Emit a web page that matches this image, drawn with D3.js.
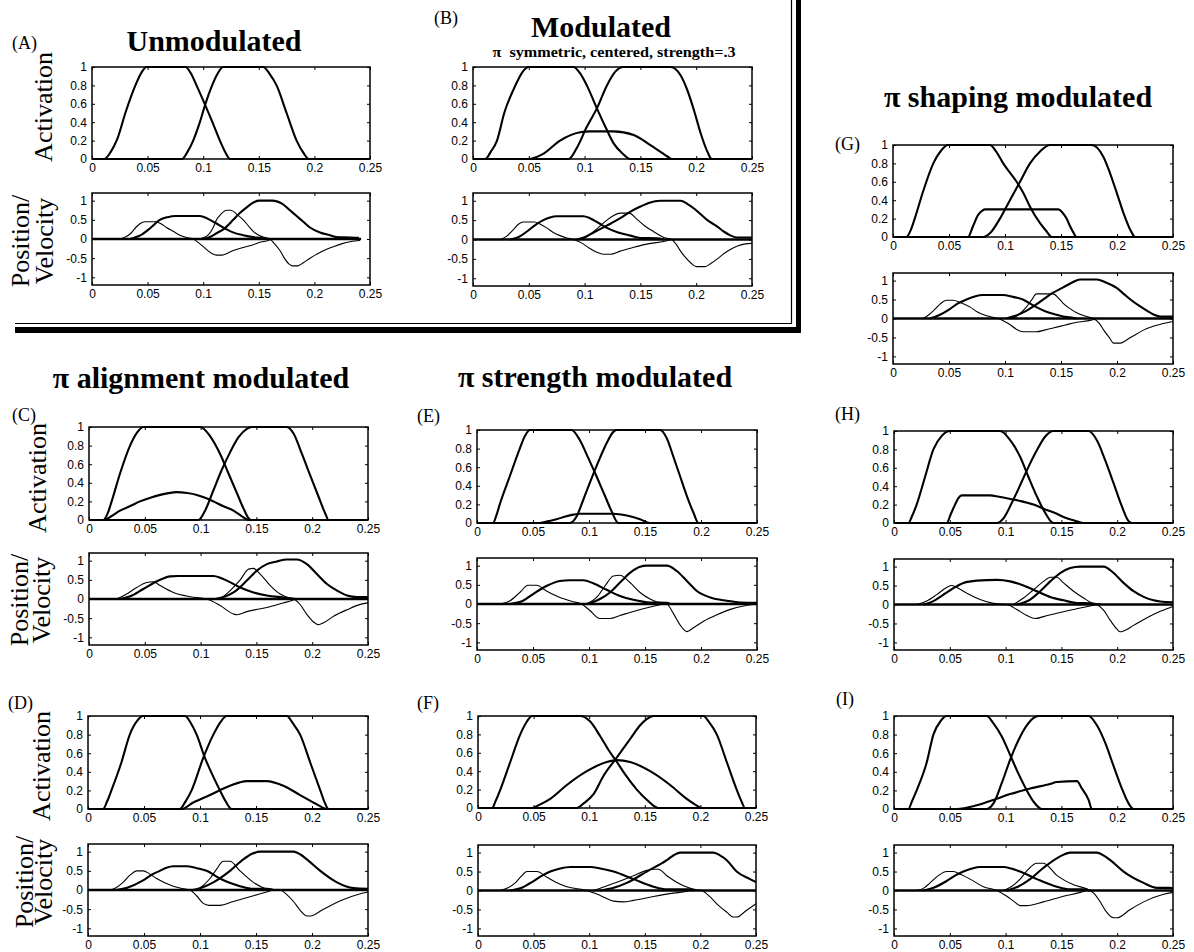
<!DOCTYPE html>
<html><head><meta charset="utf-8">
<script src="https://cdn.jsdelivr.net/npm/d3@7"></script>
<style>body{margin:0;background:#fff}svg{display:block}</style>
</head><body>
<svg id="c" width="1194" height="952"></svg>
<script>
// ---------- tick values ----------
const xTicks = [0, 0.05, 0.1, 0.15, 0.2, 0.25];
const actTicks = [0, 0.2, 0.4, 0.6, 0.8, 1];
const posTicks = [-1, -0.5, 0, 0.5, 1];
const actDomain = [0, 1];
const posDomain = [-1.2, 1.2];

// ---------- texts ----------
const panelLetters = ["(A)", "(B)", "(C)", "(D)", "(E)", "(F)", "(G)", "(H)", "(I)"];
const titleTexts = ["Unmodulated", "Modulated", "\u03c0 alignment modulated", "\u03c0 strength modulated", "\u03c0 shaping modulated"];
const subtitleText = "\u03c0  symmetric, centered, strength=.3";
const yLabelAct = "Activation";
const yLabelPos = ["Position/", "Velocity"];

// ---------- panel A ----------
const A_act1 = [[0,0],[0.011,0],[0.017,0.08],[0.0225,0.21],[0.030,0.5],[0.039,0.8],[0.045,0.95],[0.049,1],[0.084,1],[0.089,0.93],[0.094,0.8],[0.102,0.58],[0.109,0.38],[0.115,0.2],[0.120,0.07],[0.124,0],[0.25,0]];
const A_act2 = [[0,0],[0.081,0],[0.086,0.08],[0.091,0.2],[0.097,0.4],[0.102,0.6],[0.108,0.8],[0.113,0.93],[0.118,1],[0.154,1],[0.16,0.92],[0.166,0.8],[0.175,0.5],[0.184,0.2],[0.19,0.07],[0.195,0],[0.25,0]];
const A_pos1 = [[0.034,0],[0.045,0.12],[0.053,0.3],[0.061,0.5],[0.068,0.57],[0.075,0.6],[0.097,0.6],[0.106,0.5],[0.114,0.37],[0.121,0.25],[0.128,0.16],[0.136,0.1],[0.145,0.05],[0.151,0.03],[0.157,0]];
const A_pos2 = [[0.1,0],[0.106,0.05],[0.112,0.15],[0.118,0.25],[0.127,0.5],[0.133,0.68],[0.138,0.8],[0.145,0.95],[0.150,1],[0.162,1],[0.172,0.9],[0.178,0.75],[0.184,0.6],[0.19,0.45],[0.196,0.3],[0.205,0.17],[0.214,0.1],[0.22,0.05],[0.232,0.04],[0.24,0.03]];
const A_vel1 = [[0.025,0],[0.03,0.05],[0.035,0.15],[0.04,0.32],[0.045,0.43],[0.048,0.45],[0.057,0.45],[0.062,0.4],[0.067,0.3],[0.073,0.2],[0.079,0.1],[0.085,0.04],[0.091,0],[0.096,-0.1],[0.102,-0.25],[0.108,-0.38],[0.112,-0.42],[0.117,-0.42],[0.122,-0.37],[0.127,-0.3],[0.136,-0.22],[0.145,-0.15],[0.152,-0.08],[0.157,-0.05],[0.162,0]];
const A_vel2 = [[0.095,0],[0.1,0.03],[0.105,0.12],[0.109,0.3],[0.112,0.5],[0.116,0.65],[0.121,0.75],[0.125,0.75],[0.13,0.65],[0.136,0.5],[0.141,0.33],[0.145,0.2],[0.15,0.1],[0.154,0.05],[0.16,0],[0.164,-0.12],[0.169,-0.3],[0.173,-0.5],[0.177,-0.65],[0.18,-0.7],[0.185,-0.7],[0.19,-0.62],[0.196,-0.5],[0.202,-0.4],[0.21,-0.28],[0.217,-0.2],[0.225,-0.12],[0.232,-0.07],[0.241,-0.04]];
const A_zero = [[0,0],[0.242,0]];

// ---------- panel B ----------
const B_act1 = [[0,0],[0.011,0],[0.016,0.08],[0.0215,0.2],[0.028,0.5],[0.038,0.8],[0.044,0.94],[0.05,1],[0.09,1],[0.096,0.93],[0.102,0.8],[0.111,0.55],[0.1186,0.35],[0.126,0.17],[0.1335,0.065],[0.141,0],[0.25,0]];
const B_act2 = [[0,0],[0.0857,0],[0.093,0.12],[0.102,0.35],[0.111,0.55],[0.12,0.8],[0.1275,0.95],[0.135,1],[0.177,1],[0.186,0.91],[0.192,0.75],[0.198,0.53],[0.204,0.28],[0.21,0.08],[0.214,0],[0.25,0]];
const B_act3 = [[0,0],[0.05,0],[0.062,0.05],[0.078,0.2],[0.096,0.29],[0.105,0.3],[0.126,0.3],[0.144,0.26],[0.159,0.15],[0.174,0.03],[0.178,0],[0.25,0]];
const B_pos1 = [[0.033,0],[0.04,0.05],[0.048,0.2],[0.056,0.38],[0.063,0.5],[0.069,0.57],[0.075,0.6],[0.099,0.6],[0.104,0.56],[0.108,0.5],[0.114,0.4],[0.12,0.3],[0.13,0.18],[0.141,0.1],[0.15,0.04],[0.165,0.03],[0.171,0]];
const B_pos2 = [[0.093,0],[0.1,0.06],[0.108,0.18],[0.116,0.3],[0.124,0.42],[0.132,0.55],[0.14,0.7],[0.15,0.85],[0.158,0.95],[0.168,1],[0.186,1],[0.192,0.92],[0.198,0.8],[0.204,0.65],[0.21,0.5],[0.218,0.35],[0.225,0.2],[0.231,0.1],[0.237,0.05],[0.25,0.05]];
const B_vel1 = [[0.0245,0],[0.03,0.08],[0.036,0.25],[0.041,0.4],[0.045,0.45],[0.055,0.45],[0.06,0.4],[0.066,0.3],[0.072,0.18],[0.078,0.1],[0.084,0.04],[0.09,0],[0.098,-0.1],[0.104,-0.22],[0.111,-0.33],[0.117,-0.38],[0.123,-0.38],[0.132,-0.3],[0.144,-0.2],[0.159,-0.1],[0.171,-0.05],[0.177,0]];
const B_vel2 = [[0.096,0],[0.102,0.07],[0.108,0.2],[0.114,0.35],[0.12,0.5],[0.126,0.62],[0.132,0.68],[0.14,0.68],[0.147,0.52],[0.154,0.35],[0.162,0.2],[0.171,0.05],[0.178,0],[0.182,-0.12],[0.186,-0.3],[0.19,-0.45],[0.195,-0.6],[0.2,-0.7],[0.208,-0.7],[0.213,-0.62],[0.219,-0.5],[0.225,-0.36],[0.231,-0.25],[0.237,-0.17],[0.243,-0.12],[0.25,-0.1]];
const B_zero = [[0,0],[0.25,0]];

// ---------- panel G ----------
const G_act1 = [[0,0],[0.012,0],[0.016,0.08],[0.0194,0.2],[0.027,0.5],[0.036,0.8],[0.043,0.94],[0.049,1],[0.0865,1],[0.092,0.93],[0.0984,0.8],[0.1104,0.6],[0.1163,0.48],[0.1223,0.33],[0.1313,0.15],[0.1372,0.06],[0.1417,0],[0.25,0]];
const G_act2 = [[0,0],[0.0806,0],[0.0865,0.04],[0.0955,0.2],[0.1044,0.4],[0.1134,0.6],[0.1223,0.8],[0.1313,0.93],[0.1402,1],[0.1775,1],[0.1879,0.87],[0.1939,0.69],[0.1998,0.48],[0.2058,0.26],[0.2118,0.08],[0.2163,0],[0.25,0]];
const G_act3 = [[0,0],[0.067,0],[0.0715,0.12],[0.076,0.24],[0.079,0.28],[0.082,0.3],[0.1477,0.3],[0.151,0.27],[0.155,0.2],[0.158,0.12],[0.161,0.05],[0.164,0],[0.25,0]];
const G_pos1 = [[0.033,0],[0.042,0.1],[0.0507,0.25],[0.058,0.4],[0.0656,0.5],[0.073,0.58],[0.08,0.62],[0.098,0.62],[0.107,0.57],[0.116,0.5],[0.122,0.4],[0.128,0.3],[0.137,0.18],[0.146,0.1],[0.152,0.05],[0.158,0.03],[0.164,0]];
const G_pos2 = [[0.101,0],[0.11,0.08],[0.119,0.2],[0.127,0.35],[0.134,0.5],[0.143,0.68],[0.152,0.82],[0.16,0.95],[0.167,1.03],[0.182,1.03],[0.19,0.95],[0.2,0.8],[0.206,0.65],[0.212,0.5],[0.22,0.33],[0.227,0.2],[0.233,0.1],[0.239,0.05],[0.25,0.05]];
const G_vel1 = [[0.027,0],[0.032,0.1],[0.036,0.2],[0.042,0.38],[0.048,0.48],[0.054,0.48],[0.06,0.42],[0.069,0.3],[0.075,0.18],[0.081,0.1],[0.088,0.04],[0.094,0],[0.099,-0.07],[0.104,-0.15],[0.11,-0.28],[0.116,-0.35],[0.128,-0.35],[0.136,-0.3],[0.143,-0.25],[0.154,-0.17],[0.164,-0.1],[0.176,-0.05],[0.182,0]];
const G_vel2 = [[0.107,0],[0.113,0.12],[0.119,0.3],[0.124,0.5],[0.128,0.65],[0.143,0.65],[0.148,0.53],[0.152,0.4],[0.158,0.26],[0.164,0.15],[0.172,0.06],[0.179,0],[0.184,-0.12],[0.188,-0.3],[0.193,-0.5],[0.197,-0.65],[0.203,-0.65],[0.208,-0.58],[0.212,-0.5],[0.218,-0.4],[0.224,-0.3],[0.231,-0.22],[0.239,-0.15],[0.25,-0.08]];
const G_zero = [[0,0],[0.25,0]];

// ---------- panel C ----------
const C_act1 = [[0,0],[0.0129,0],[0.017,0.08],[0.0203,0.2],[0.0278,0.5],[0.0368,0.8],[0.043,0.94],[0.0487,1],[0.0996,1],[0.1086,0.9],[0.1175,0.71],[0.125,0.5],[0.1325,0.29],[0.1384,0.125],[0.1429,0.02],[0.145,0],[0.25,0]];
const C_act2 = [[0,0],[0.098,0],[0.104,0.1],[0.1115,0.32],[0.119,0.54],[0.1265,0.73],[0.134,0.89],[0.1414,0.98],[0.1459,1],[0.1773,1],[0.1833,0.93],[0.1908,0.71],[0.1982,0.48],[0.2057,0.25],[0.2117,0.07],[0.2147,0],[0.25,0]];
const C_act3 = [[0,0],[0.0129,0],[0.02,0.04],[0.0278,0.1],[0.037,0.15],[0.0457,0.2],[0.055,0.24],[0.0637,0.27],[0.0786,0.3],[0.088,0.29],[0.0966,0.27],[0.104,0.24],[0.1115,0.2],[0.12,0.15],[0.1295,0.1],[0.137,0.04],[0.143,0],[0.25,0]];
const C_pos1 = [[0.0278,0],[0.037,0.07],[0.0487,0.26],[0.0637,0.5],[0.0727,0.59],[0.08,0.6],[0.1115,0.6],[0.118,0.55],[0.1235,0.48],[0.1355,0.3],[0.1474,0.17],[0.1594,0.09],[0.1743,0.04],[0.1803,0.02],[0.185,0]];
const C_pos2 = [[0.113,0],[0.1205,0.05],[0.1295,0.17],[0.1414,0.48],[0.1504,0.74],[0.1594,0.91],[0.1684,0.98],[0.1773,1.03],[0.1863,1.03],[0.1952,0.91],[0.2042,0.65],[0.2132,0.39],[0.2222,0.22],[0.2312,0.09],[0.2401,0.05],[0.25,0.05]];
const C_vel1 = [[0.0248,0],[0.0338,0.13],[0.0427,0.3],[0.0517,0.43],[0.0577,0.45],[0.0637,0.35],[0.0756,0.17],[0.0906,0.06],[0.1055,0],[0.1175,-0.17],[0.1295,-0.39],[0.1325,-0.41],[0.1414,-0.33],[0.1594,-0.22],[0.1743,-0.1],[0.1818,-0.04],[0.185,0]];
const C_vel2 = [[0.1175,0],[0.1265,0.22],[0.1355,0.5],[0.143,0.78],[0.1474,0.8],[0.1534,0.65],[0.1624,0.35],[0.1713,0.13],[0.1803,0.02],[0.1833,0],[0.1893,-0.15],[0.1952,-0.4],[0.2012,-0.6],[0.2057,-0.67],[0.2102,-0.62],[0.2192,-0.45],[0.2312,-0.28],[0.2431,-0.14],[0.25,-0.1]];
const C_zero = [[0,0],[0.25,0]];

// ---------- panel D ----------
const D_act1 = [[0,0],[0.0134,0],[0.017,0.08],[0.0209,0.2],[0.0298,0.5],[0.0373,0.8],[0.044,0.95],[0.0492,1],[0.0865,1],[0.092,0.92],[0.097,0.8],[0.1044,0.55],[0.111,0.37],[0.1178,0.2],[0.123,0.08],[0.1283,0],[0.25,0]];
const D_act2 = [[0,0],[0.082,0],[0.087,0.08],[0.0925,0.2],[0.1029,0.55],[0.1119,0.8],[0.118,0.93],[0.1238,1],[0.1775,1],[0.183,0.92],[0.1894,0.8],[0.1984,0.5],[0.2074,0.2],[0.211,0.08],[0.2148,0],[0.25,0]];
const D_act3 = [[0,0],[0.0835,0],[0.094,0.07],[0.1089,0.15],[0.1268,0.25],[0.1417,0.3],[0.1596,0.3],[0.1745,0.25],[0.1894,0.15],[0.2044,0.05],[0.2133,0],[0.25,0]];
const D_pos1 = [[0.0254,0],[0.035,0.06],[0.0492,0.25],[0.057,0.4],[0.0641,0.5],[0.07,0.58],[0.0761,0.62],[0.088,0.62],[0.097,0.57],[0.1059,0.5],[0.1178,0.3],[0.127,0.18],[0.1357,0.1],[0.1477,0.03],[0.1596,0.03],[0.1656,0]];
const D_pos2 = [[0.094,0],[0.103,0.08],[0.1119,0.2],[0.1268,0.5],[0.1387,0.8],[0.147,0.95],[0.1536,1],[0.1835,1],[0.19,0.92],[0.1954,0.8],[0.2074,0.5],[0.2223,0.2],[0.23,0.1],[0.2372,0.05],[0.25,0.03]];
const D_vel1 = [[0.0194,0],[0.025,0.06],[0.0313,0.2],[0.038,0.4],[0.0433,0.5],[0.0492,0.5],[0.055,0.42],[0.0612,0.3],[0.0761,0.1],[0.084,0.04],[0.091,0],[0.097,-0.15],[0.1029,-0.35],[0.108,-0.4],[0.1178,-0.4],[0.1298,-0.3],[0.1477,-0.15],[0.1596,-0.05],[0.165,0]];
const D_vel2 = [[0.097,0],[0.1029,0.12],[0.1089,0.3],[0.115,0.55],[0.1208,0.75],[0.1268,0.75],[0.1357,0.5],[0.1477,0.2],[0.1596,0.03],[0.1715,0],[0.1775,-0.12],[0.1835,-0.3],[0.19,-0.55],[0.1954,-0.68],[0.1984,-0.68],[0.2103,-0.5],[0.2282,-0.25],[0.2431,-0.1],[0.25,-0.05]];
const D_zero = [[0,0],[0.25,0]];

// ---------- panel E ----------
const E_act1 = [[0,0],[0.0143,0],[0.017,0.07],[0.0203,0.2],[0.0292,0.5],[0.0382,0.8],[0.043,0.94],[0.0471,1],[0.0844,1],[0.0919,0.89],[0.0993,0.7],[0.1068,0.5],[0.1143,0.29],[0.1202,0.125],[0.1262,0],[0.25,0]];
const E_act2 = [[0,0],[0.0829,0],[0.0889,0.07],[0.0949,0.25],[0.1023,0.48],[0.1098,0.7],[0.1158,0.86],[0.1217,0.98],[0.1247,1],[0.1635,1],[0.1695,0.91],[0.1754,0.71],[0.1814,0.5],[0.1874,0.29],[0.1933,0.11],[0.1978,0],[0.25,0]];
const E_act3 = [[0,0],[0.056,0],[0.064,0.02],[0.071,0.04],[0.079,0.07],[0.0859,0.09],[0.0919,0.1],[0.1217,0.1],[0.1337,0.08],[0.1456,0.04],[0.1545,0],[0.25,0]];
const E_pos1 = [[0.0292,0],[0.0411,0.085],[0.0501,0.26],[0.062,0.47],[0.074,0.6],[0.0829,0.62],[0.0949,0.62],[0.1038,0.54],[0.1158,0.37],[0.1277,0.21],[0.1396,0.11],[0.1545,0.04],[0.1695,0.03],[0.1724,0]];
const E_pos2 = [[0.0979,0],[0.1098,0.13],[0.1187,0.3],[0.1277,0.56],[0.1366,0.81],[0.1456,0.97],[0.1516,1],[0.1695,1],[0.1784,0.86],[0.1874,0.6],[0.1963,0.34],[0.2083,0.17],[0.2232,0.085],[0.2351,0.04],[0.25,0.03]];
const E_vel1 = [[0.0203,0],[0.0292,0.08],[0.0382,0.3],[0.0456,0.49],[0.0531,0.49],[0.062,0.34],[0.074,0.17],[0.0859,0.06],[0.0934,0],[0.1008,-0.17],[0.1098,-0.38],[0.1187,-0.38],[0.1277,-0.3],[0.1426,-0.17],[0.1575,-0.06],[0.1665,0]];
const E_vel2 = [[0.0979,0],[0.1068,0.17],[0.1143,0.47],[0.1217,0.73],[0.1277,0.75],[0.1366,0.56],[0.1456,0.3],[0.1545,0.13],[0.1635,0.03],[0.1695,0],[0.1754,-0.25],[0.1814,-0.55],[0.1874,-0.72],[0.1933,-0.62],[0.2023,-0.45],[0.2142,-0.28],[0.2262,-0.14],[0.2381,-0.05],[0.25,0]];
const E_zero = [[0,0],[0.25,0]];

// ---------- panel F ----------
const F_act1 = [[0,0],[0.0126,0],[0.016,0.08],[0.0201,0.2],[0.029,0.5],[0.038,0.8],[0.044,0.94],[0.0485,1],[0.0919,1],[0.1009,0.94],[0.1099,0.78],[0.1174,0.63],[0.1249,0.5],[0.1338,0.34],[0.1428,0.2],[0.1518,0.09],[0.1623,0],[0.25,0]];
const F_act2 = [[0,0],[0.0889,0],[0.095,0.05],[0.1039,0.15],[0.1129,0.35],[0.1249,0.55],[0.1368,0.75],[0.1458,0.9],[0.152,0.97],[0.1578,1],[0.2027,1],[0.208,0.93],[0.2147,0.8],[0.2237,0.5],[0.2326,0.2],[0.237,0.07],[0.2401,0],[0.25,0]];
const F_act3 = [[0,0],[0.0485,0],[0.056,0.04],[0.065,0.1],[0.0799,0.25],[0.0979,0.4],[0.1159,0.5],[0.1249,0.52],[0.1368,0.5],[0.1548,0.4],[0.1728,0.25],[0.1877,0.1],[0.195,0.04],[0.2012,0],[0.25,0]];
const F_pos1 = [[0.029,0],[0.04,0.08],[0.05,0.25],[0.058,0.4],[0.065,0.5],[0.074,0.58],[0.0829,0.62],[0.1009,0.62],[0.11,0.58],[0.1219,0.5],[0.1398,0.3],[0.1578,0.1],[0.1698,0.03],[0.1907,0.03],[0.1937,0]];
const F_pos2 = [[0.1099,0],[0.122,0.07],[0.1338,0.2],[0.1518,0.5],[0.1698,0.8],[0.176,0.93],[0.1817,1],[0.2117,1],[0.218,0.92],[0.2237,0.8],[0.2326,0.5],[0.2446,0.3],[0.25,0.22]];
const F_vel1 = [[0.0201,0],[0.027,0.07],[0.0335,0.2],[0.039,0.38],[0.044,0.5],[0.053,0.5],[0.062,0.35],[0.07,0.22],[0.0799,0.1],[0.0979,0],[0.1099,-0.13],[0.1219,-0.28],[0.1308,-0.3],[0.1398,-0.26],[0.1578,-0.16],[0.1757,-0.07],[0.1877,-0.02],[0.19,0]];
const F_vel2 = [[0.1039,0],[0.1249,0.22],[0.1398,0.39],[0.1518,0.53],[0.1578,0.56],[0.1623,0.56],[0.1698,0.39],[0.1787,0.22],[0.1877,0.09],[0.1967,0.02],[0.2012,0],[0.2087,-0.17],[0.2162,-0.39],[0.2237,-0.57],[0.2296,-0.7],[0.2326,-0.7],[0.2416,-0.52],[0.25,-0.35]];
const F_zero = [[0,0],[0.25,0]];

// ---------- panel H ----------
const H_act1 = [[0,0],[0.0129,0],[0.016,0.07],[0.0203,0.2],[0.0278,0.5],[0.0353,0.8],[0.043,0.95],[0.0502,1],[0.0951,1],[0.1041,0.9],[0.113,0.72],[0.1205,0.5],[0.128,0.29],[0.1355,0.11],[0.1429,0],[0.25,0]];
const H_act2 = [[0,0],[0.0921,0],[0.0981,0.05],[0.1056,0.22],[0.113,0.41],[0.1205,0.61],[0.128,0.79],[0.1355,0.94],[0.1429,1],[0.1743,1],[0.1818,0.9],[0.1893,0.68],[0.1968,0.43],[0.2042,0.18],[0.2102,0.02],[0.2132,0],[0.25,0]];
const H_act3 = [[0,0],[0.0472,0],[0.051,0.1],[0.0547,0.2],[0.0577,0.27],[0.0607,0.3],[0.0861,0.3],[0.094,0.285],[0.1011,0.27],[0.113,0.24],[0.125,0.2],[0.135,0.15],[0.1459,0.1],[0.153,0.06],[0.1609,0.03],[0.1699,0],[0.25,0]];
const H_pos1 = [[0.0263,0],[0.0353,0.09],[0.0443,0.26],[0.0532,0.43],[0.0622,0.57],[0.0742,0.63],[0.0921,0.65],[0.1041,0.61],[0.116,0.5],[0.128,0.35],[0.14,0.2],[0.1519,0.11],[0.1639,0.04],[0.1758,0.03],[0.1848,0]];
const H_pos2 = [[0.11,0],[0.122,0.13],[0.131,0.35],[0.14,0.61],[0.1489,0.83],[0.1579,0.96],[0.1669,1],[0.1878,1],[0.1968,0.83],[0.2057,0.57],[0.2147,0.35],[0.2237,0.2],[0.2326,0.11],[0.2386,0.08],[0.25,0.06]];
const H_vel1 = [[0.0203,0],[0.0293,0.09],[0.0383,0.26],[0.0472,0.45],[0.0517,0.5],[0.0562,0.45],[0.0652,0.3],[0.0771,0.13],[0.0891,0.03],[0.1011,0],[0.11,-0.13],[0.119,-0.29],[0.1265,-0.37],[0.134,-0.32],[0.1459,-0.23],[0.1609,-0.13],[0.1758,-0.04],[0.1818,0]];
const H_vel2 = [[0.107,0],[0.116,0.17],[0.125,0.39],[0.134,0.61],[0.14,0.72],[0.1459,0.72],[0.1519,0.57],[0.1609,0.35],[0.1699,0.17],[0.1773,0.04],[0.1818,0],[0.1878,-0.15],[0.1938,-0.42],[0.1998,-0.65],[0.2027,-0.72],[0.2057,-0.7],[0.2147,-0.55],[0.2267,-0.35],[0.2386,-0.18],[0.25,-0.05]];
const H_zero = [[0,0],[0.25,0]];

// ---------- panel I ----------
const I_act1 = [[0,0],[0.0129,0],[0.016,0.08],[0.0203,0.2],[0.0293,0.5],[0.0353,0.8],[0.042,0.95],[0.0472,1],[0.0831,1],[0.0891,0.92],[0.0966,0.78],[0.1041,0.58],[0.1115,0.38],[0.119,0.2],[0.125,0.08],[0.1325,0],[0.25,0]];
const I_act2 = [[0,0],[0.0831,0],[0.0891,0.06],[0.0966,0.28],[0.1041,0.53],[0.1115,0.74],[0.119,0.9],[0.1265,0.99],[0.1295,1],[0.1743,1],[0.1818,0.9],[0.1893,0.71],[0.1968,0.46],[0.2042,0.22],[0.2102,0.06],[0.2147,0],[0.25,0]];
const I_act3 = [[0,0],[0.0562,0],[0.0742,0.04],[0.0921,0.11],[0.1041,0.16],[0.122,0.22],[0.1399,0.27],[0.1459,0.29],[0.1639,0.3],[0.1684,0.22],[0.1743,0.1],[0.1773,0],[0.25,0]];
const I_pos1 = [[0.0263,0],[0.036,0.08],[0.0472,0.25],[0.055,0.4],[0.0622,0.5],[0.07,0.58],[0.0771,0.62],[0.0981,0.62],[0.105,0.58],[0.113,0.5],[0.128,0.3],[0.1459,0.1],[0.1579,0.03],[0.1699,0.03],[0.1758,0]];
const I_pos2 = [[0.1011,0],[0.111,0.1],[0.122,0.3],[0.134,0.6],[0.1489,0.9],[0.1579,1],[0.1818,1],[0.188,0.92],[0.1938,0.8],[0.2057,0.5],[0.2237,0.2],[0.2356,0.07],[0.2476,0.07],[0.25,0.05]];
const I_vel1 = [[0.0203,0],[0.027,0.07],[0.0323,0.2],[0.04,0.4],[0.0472,0.5],[0.0532,0.5],[0.06,0.42],[0.0682,0.3],[0.0801,0.1],[0.0921,0],[0.1011,-0.15],[0.108,-0.3],[0.113,-0.4],[0.119,-0.4],[0.134,-0.3],[0.1519,-0.15],[0.1669,-0.05],[0.172,0]];
const I_vel2 = [[0.0981,0],[0.105,0.1],[0.113,0.3],[0.12,0.55],[0.128,0.72],[0.134,0.72],[0.1459,0.4],[0.1609,0.15],[0.1758,0],[0.18,-0.1],[0.1848,-0.3],[0.19,-0.55],[0.1968,-0.72],[0.1998,-0.72],[0.2117,-0.5],[0.2237,-0.3],[0.2416,-0.1],[0.25,-0.05]];
const I_zero = [[0,0],[0.25,0]];

// ---------- layout (positions only) ----------
const panels = [
  {letter: panelLetters[0], lx: 12, ly: 49, act: [A_act1, A_act2], pos: [A_pos1, A_pos2], vel: [A_vel1, A_vel2], zero: A_zero,
   actBox: [92, 370, 67, 159], posBox: [92, 370, 193, 285], ylab: {ax: 52, ay: 107, p1: 29, p2: 53, py: 241}},
  {letter: panelLetters[1], lx: 434, ly: 24, act: [B_act1, B_act2, B_act3], pos: [B_pos1, B_pos2], vel: [B_vel1, B_vel2], zero: B_zero,
   actBox: [473, 752, 67, 159], posBox: [473, 752, 193, 286]},
  {letter: panelLetters[2], lx: 12, ly: 421, act: [C_act1, C_act2, C_act3], pos: [C_pos1, C_pos2], vel: [C_vel1, C_vel2], zero: C_zero,
   actBox: [89, 368, 427, 520], posBox: [89, 368, 553, 645], ylab: {ax: 46, ay: 478, p1: 28, p2: 50, py: 600}},
  {letter: panelLetters[3], lx: 8, ly: 709, act: [D_act1, D_act2, D_act3], pos: [D_pos1, D_pos2], vel: [D_vel1, D_vel2], zero: D_zero,
   actBox: [88, 368, 716, 809], posBox: [88, 368, 844, 936], ylab: {ax: 50, ay: 766, p1: 33, p2: 52, py: 882}},
  {letter: panelLetters[4], lx: 417, ly: 422, act: [E_act1, E_act2, E_act3], pos: [E_pos1, E_pos2], vel: [E_vel1, E_vel2], zero: E_zero,
   actBox: [477, 757, 430, 523], posBox: [477, 757, 558, 650]},
  {letter: panelLetters[5], lx: 417, ly: 709, act: [F_act1, F_act2, F_act3], pos: [F_pos1, F_pos2], vel: [F_vel1, F_vel2], zero: F_zero,
   actBox: [478, 756, 716, 808], posBox: [478, 756, 845, 936]},
  {letter: panelLetters[6], lx: 835, ly: 150, act: [G_act1, G_act2, G_act3], pos: [G_pos1, G_pos2], vel: [G_vel1, G_vel2], zero: G_zero,
   actBox: [893, 1173, 145, 237], posBox: [893, 1173, 273, 364]},
  {letter: panelLetters[7], lx: 835, ly: 420, act: [H_act1, H_act2, H_act3], pos: [H_pos1, H_pos2], vel: [H_vel1, H_vel2], zero: H_zero,
   actBox: [894, 1173, 431, 523], posBox: [894, 1173, 559, 650]},
  {letter: panelLetters[8], lx: 836, ly: 705, act: [I_act1, I_act2, I_act3], pos: [I_pos1, I_pos2], vel: [I_vel1, I_vel2], zero: I_zero,
   actBox: [894, 1173, 716, 809], posBox: [894, 1173, 845, 936]}
];

const titles = [
  {text: titleTexts[0], x: 214, y: 51},
  {text: titleTexts[1], x: 601, y: 37},
  {text: titleTexts[2], x: 201, y: 388},
  {text: titleTexts[3], x: 595, y: 387},
  {text: titleTexts[4], x: 1018, y: 107}
];

const SERIF = "'Liberation Serif','Times New Roman',Times,serif";
const SANS = "'Liberation Sans',Arial,Helvetica,sans-serif";
const svg = d3.select("#c");
const fmt = d => String(d);

function drawPlot(box, yDomain, yTicks, thickCurves, thinCurves, zero) {
  const [x0, x1, y0, y1] = box;
  const x = d3.scaleLinear().domain([0, 0.25]).range([x0, x1]);
  const y = d3.scaleLinear().domain(yDomain).range([y1, y0]);
  const g = svg.append("g");
  const axB = g.append("g").attr("transform", `translate(0,${y1})`)
    .call(d3.axisBottom(x).tickValues(xTicks).tickSize(-3).tickPadding(4).tickFormat(fmt));
  const axT = g.append("g").attr("transform", `translate(0,${y0})`)
    .call(d3.axisTop(x).tickValues(xTicks).tickSize(-3).tickFormat(""));
  const axL = g.append("g").attr("transform", `translate(${x0},0)`)
    .call(d3.axisLeft(y).tickValues(yTicks).tickSize(-3).tickPadding(5).tickFormat(fmt));
  const axR = g.append("g").attr("transform", `translate(${x1},0)`)
    .call(d3.axisRight(y).tickValues(yTicks).tickSize(-3).tickFormat(""));
  [axB, axT, axL, axR].forEach(a => {
    a.attr("font-family", SANS).attr("font-size", 12);
    a.select(".domain").remove();
    a.selectAll(".tick line").attr("stroke", "#000").attr("stroke-width", 1);
    a.selectAll(".tick text").attr("fill", "#000");
  });
  const line = d3.line().x(d => x(d[0])).y(d => y(d[1])).curve(d3.curveMonotoneX);
  if (zero) {
    g.append("path").datum(zero).attr("d", line).attr("fill", "none")
      .attr("stroke", "#000").attr("stroke-width", 2.6);
  }
  thinCurves.forEach(c => g.append("path").datum(c).attr("d", line).attr("fill", "none")
    .attr("stroke", "#000").attr("stroke-width", 1.1).attr("stroke-linejoin", "round"));
  thickCurves.forEach(c => g.append("path").datum(c).attr("d", line).attr("fill", "none")
    .attr("stroke", "#000").attr("stroke-width", 2.1).attr("stroke-linejoin", "round"));
  g.append("rect").attr("x", x0).attr("y", y0).attr("width", x1 - x0).attr("height", y1 - y0)
    .attr("fill", "none").attr("stroke", "#000").attr("stroke-width", 1.5);
}

panels.forEach(p => {
  drawPlot(p.actBox, actDomain, actTicks, p.act, [], null);
  drawPlot(p.posBox, posDomain, posTicks, p.pos, p.vel, p.zero);
  svg.append("text").attr("x", p.lx).attr("y", p.ly).text(p.letter)
    .attr("font-family", SERIF).attr("font-size", 18).attr("fill", "#000");
  if (p.ylab) {
    const L = p.ylab;
    svg.append("text").attr("transform", `translate(${L.ax},${L.ay}) rotate(-90)`)
      .attr("text-anchor", "middle").attr("font-family", SERIF).attr("font-size", 26).text(yLabelAct);
    svg.append("text").attr("transform", `translate(${L.p1},${L.py}) rotate(-90)`)
      .attr("text-anchor", "middle").attr("font-family", SERIF).attr("font-size", 26).text(yLabelPos[0]);
    svg.append("text").attr("transform", `translate(${L.p2},${L.py}) rotate(-90)`)
      .attr("text-anchor", "middle").attr("font-family", SERIF).attr("font-size", 26).text(yLabelPos[1]);
  }
});

titles.forEach(t => {
  svg.append("text").attr("x", t.x).attr("y", t.y).attr("text-anchor", "middle")
    .attr("font-family", SERIF).attr("font-weight", "bold").attr("font-size", 30).text(t.text);
});
svg.append("text").attr("x", 614).attr("y", 57).attr("text-anchor", "middle")
  .attr("font-family", SERIF).attr("font-weight", "bold").attr("font-size", 14)
  .style("white-space", "pre").attr("textLength", 243).attr("lengthAdjust", "spacingAndGlyphs")
  .text(subtitleText);

// double border around panels A and B
const border = svg.append("g").attr("stroke", "#000").attr("fill", "none");
border.append("line").attr("x1", 791.5).attr("y1", 0).attr("x2", 791.5).attr("y2", 324).attr("stroke-width", 1.2);
border.append("line").attr("x1", 15).attr("y1", 323.5).attr("x2", 792).attr("y2", 323.5).attr("stroke-width", 1.2);
border.append("line").attr("x1", 798.5).attr("y1", 0).attr("x2", 798.5).attr("y2", 333).attr("stroke-width", 5);
border.append("line").attr("x1", 15).attr("y1", 330).attr("x2", 801).attr("y2", 330).attr("stroke-width", 6);
</script>
</body></html>
